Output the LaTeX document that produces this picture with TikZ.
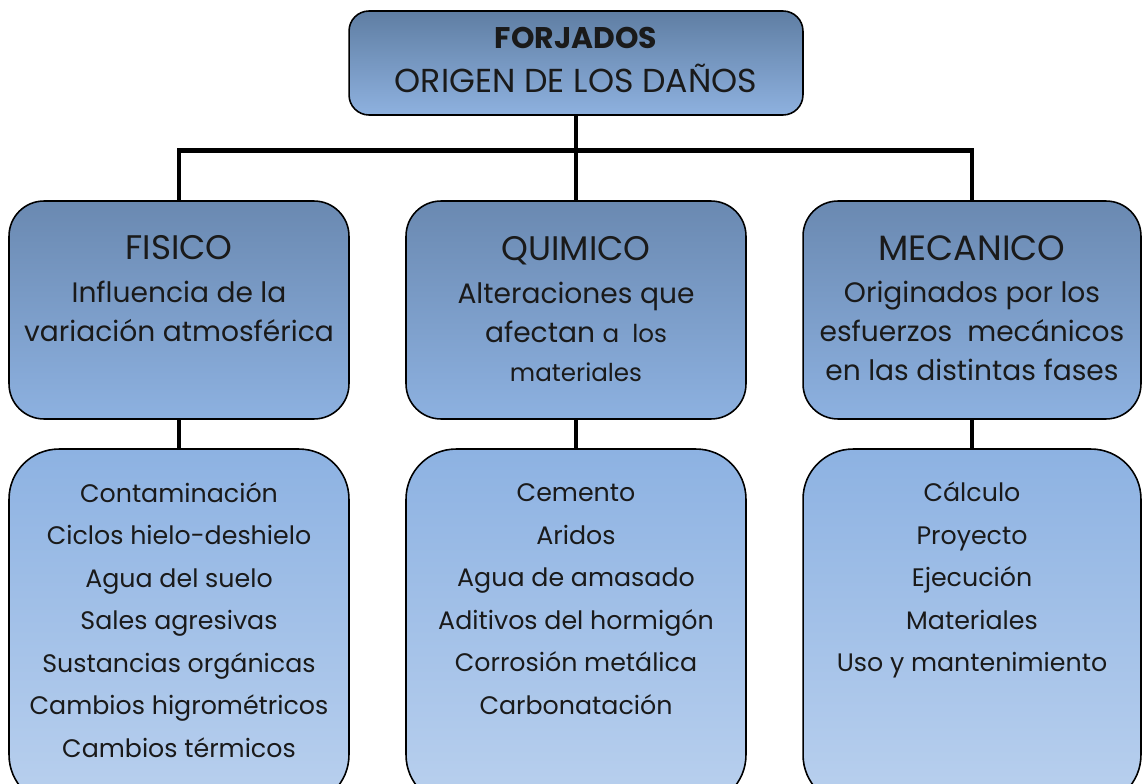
\documentclass[tikz,border=0pt]{standalone}
\usepackage{fontspec}
\setmainfont{Poppins}
\usetikzlibrary{positioning}
\definecolor{toptop}{HTML}{5F7EA3}
\definecolor{topbot}{HTML}{8EB1DF}
\definecolor{midtop}{HTML}{6A89B1}
\definecolor{midbot}{HTML}{8DB1E0}
\definecolor{lowtop}{HTML}{8DB2E2}
\definecolor{lowbot}{HTML}{B9D0EE}
\definecolor{ink}{HTML}{1A1A1A}
\tikzset{
  box/.style={draw=black, line width=0.9pt, inner sep=0pt},
  titlebox/.style={box, rounded corners=0.4cm, top color=toptop, bottom color=topbot, minimum width=9.08cm, minimum height=2.08cm},
  groupbox/.style={box, rounded corners=0.7cm, top color=midtop, bottom color=midbot, minimum width=6.8cm, minimum height=4.36cm},
  listbox/.style={box, rounded corners=1cm, top color=lowtop, bottom color=lowbot, minimum width=6.8cm, minimum height=7.12cm},
  link/.style={line width=2.8pt},
  headtxt/.style={text=ink, inner sep=0pt, font=\fontsize{19.4}{22}\selectfont},
  grouptxt/.style={text=ink, inner sep=0pt, align=center, font=\fontsize{16}{22.2}\selectfont},
  listtxt/.style={text=ink, inner sep=0pt, align=center, font=\fontsize{14.4}{24.2}\selectfont}
}
\begin{document}
\begin{tikzpicture}[x=0.02cm, y=-0.02cm]
  \useasboundingbox (0,0) rectangle (1143,784);
  \clip (0,0) rectangle (1143,784);

  \node[titlebox] (top) at (576,63) {};
  \node[groupbox] (fis) at (179,310) {};
  \node[groupbox] (qui) at (576,310) {};
  \node[groupbox, minimum width=6.76cm] (mec) at (972,310) {};
  \node[listbox] (fisl) at (179,627) {};
  \node[listbox] (quil) at (576,627) {};
  \node[listbox, minimum width=6.76cm] (mecl) at (972,627) {};

  \coordinate[below=0.7cm of top.south] (bar);
  \draw[link] (top.south) -- (qui.north);
  \draw[link] (fis.north) |- (bar) -| (mec.north);
  \foreach \n in {fis,qui,mec}
    \draw[link] (\n.south) -- (\n l.north);

  \node[headtxt, font=\bfseries\fontsize{17}{20}\selectfont] (t1) at (576,38) {FORJADOS};
  \node[headtxt, font=\fontsize{18.9}{22}\selectfont] (t2) at (576,78) {ORIGEN DE LOS DAÑOS};

  \node[headtxt] (h1) at (179,248) {FISICO};
  \node[grouptxt] (g1) at (179,311) {Influencia de la\\variación atmosférica};
  \node[headtxt] (h2) at (576,251) {QUIMICO};
  \node[grouptxt] (g2) at (576,332) {Alteraciones que\\afectan {\fontsize{14}{22.2}\selectfont a\ \ los}\\{\fontsize{14}{22.2}\selectfont materiales}};
  \node[headtxt, font=\fontsize{20}{22}\selectfont] (h3) at (972,248) {MECANICO};
  \node[grouptxt] (g3) at (972,331) {Originados por los\\esfuerzos\ \ mecánicos\\en las distintas fases};

  \node[listtxt] (l1) at (179,620) {Contaminación\\Ciclos hielo-deshielo\\Agua del suelo\\Sales agresivas\\Sustancias orgánicas\\Cambios higrométricos\\Cambios térmicos};
  \node[listtxt] (l2) at (576,599) {Cemento\\Aridos\\Agua de amasado\\Aditivos del hormigón\\Corrosión metálica\\Carbonatación};
  \node[listtxt] (l3) at (972,580) {Cálculo\\Proyecto\\Ejecución\\Materiales\\Uso y mantenimiento};
\end{tikzpicture}
\end{document}
